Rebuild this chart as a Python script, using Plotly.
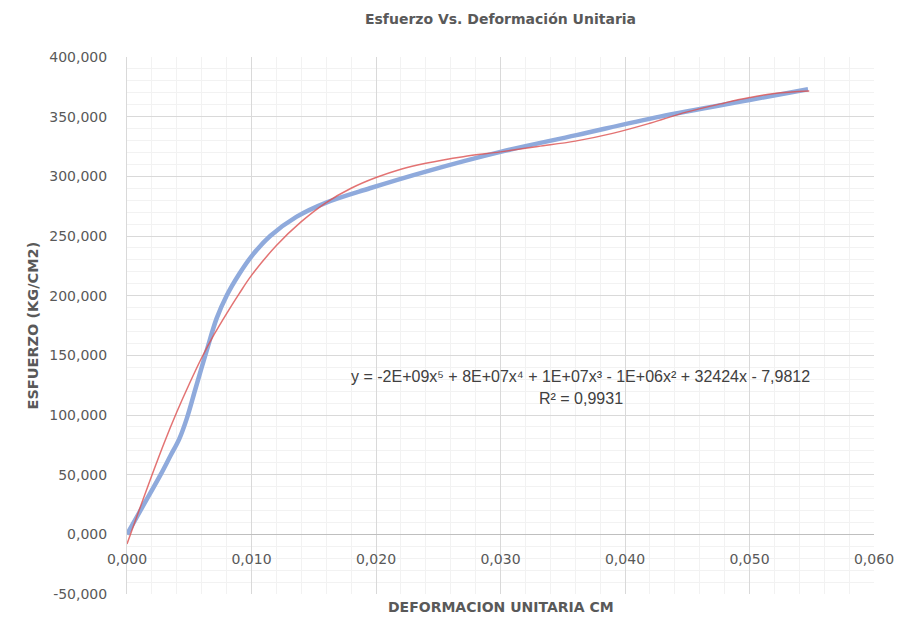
import plotly.graph_objects as go

# Ensayo: esfuerzo vs. deformación unitaria
deformacion = [0.0, 0.0013, 0.0027, 0.0035, 0.0042, 0.0048, 0.0055, 0.0064, 0.0072,
               0.0080, 0.0090, 0.0100, 0.0115, 0.0136, 0.0160, 0.0195, 0.0240,
               0.0300, 0.0361, 0.0428, 0.0500, 0.0547]
esfuerzo = [0.0, 24.0, 50.0, 66.0, 80.0, 97.0, 122.0, 154.0, 181.0,
            200.0, 218.0, 233.0, 250.0, 266.0, 278.0, 290.0, 304.0,
            320.5, 334.5, 350.0, 364.0, 373.0]

# Línea de tendencia polinómica (grado 5)
tend_x = [0.0, 0.001, 0.002, 0.003, 0.004, 0.005, 0.006, 0.007, 0.008, 0.009,
          0.010, 0.012, 0.014, 0.016, 0.018, 0.020, 0.022, 0.024, 0.027,
          0.030, 0.033, 0.036, 0.039, 0.042, 0.045, 0.048, 0.050, 0.052, 0.0548]
tend_y = [-8.0, 21.0, 49.5, 77.0, 102.5, 126.0, 148.0, 167.5, 185.0, 201.5,
          217.0, 242.0, 262.0, 278.0, 290.0, 299.0, 306.0, 311.0, 316.5,
          320.5, 325.0, 329.5, 336.0, 344.5, 354.0, 361.5, 366.0, 369.5, 371.5]

ecuacion = "y = -2E+09x⁵ + 8E+07x⁴ + 1E+07x³ - 1E+06x² + 32424x - 7,9812"
r2 = "R² = 0,9931"

x_ticks = [0.0, 0.01, 0.02, 0.03, 0.04, 0.05, 0.06]
y_ticks = [-50, 0, 50, 100, 150, 200, 250, 300, 350, 400]


def etiqueta(v):
    # tres decimales con coma decimal y guion como signo menos
    return f"{v:.3f}".replace(".", ",")


gray_txt = "#595959"
font_axis = "DejaVu Sans"

fig = go.Figure()
fig.add_trace(go.Scatter(
    x=deformacion, y=esfuerzo, mode="lines",
    line=dict(color="#8FAADC", width=4.5, shape="spline", smoothing=1.0),
    showlegend=False, name="Esfuerzo",
))
fig.add_trace(go.Scatter(
    x=tend_x, y=tend_y, mode="lines",
    line=dict(color="rgba(220,80,80,0.8)", width=1.5, shape="spline", smoothing=1.0),
    showlegend=False, name="Polinómica",
))

fig.update_layout(
    width=914, height=618,
    margin=dict(l=127, r=40, t=57, b=24),
    paper_bgcolor="white", plot_bgcolor="white",
    title=dict(
        text="<b>Esfuerzo Vs. Deformación Unitaria</b>",
        x=(127 + 874) / 2 / 914, xanchor="center",
        y=1 - 19 / 618, yanchor="middle",
        font=dict(family=font_axis, size=14, color=gray_txt),
    ),
    xaxis=dict(
        range=[0, 0.06], tickvals=x_ticks, ticktext=[etiqueta(v) for v in x_ticks],
        showgrid=True, gridcolor="#D9D9D9", gridwidth=1,
        minor=dict(dtick=0.002, showgrid=True, gridcolor="#F2F2F2", gridwidth=1),
        zeroline=False, showline=False, ticks="",
        anchor="free", position=50 / 450,
        tickfont=dict(family=font_axis, size=14, color=gray_txt),
        ticklabelstandoff=15,
    ),
    yaxis=dict(
        range=[-50, 400], tickvals=y_ticks, ticktext=[etiqueta(v) for v in y_ticks],
        showgrid=True, gridcolor="#D9D9D9", gridwidth=1,
        minor=dict(dtick=10, showgrid=True, gridcolor="#F2F2F2", gridwidth=1),
        zeroline=True, zerolinecolor="#BFBFBF", zerolinewidth=1,
        showline=True, linecolor="#D9D9D9", linewidth=1, ticks="",
        tickfont=dict(family=font_axis, size=14, color=gray_txt),
        ticklabelstandoff=16,
    ),
    annotations=[
        dict(text="<b>DEFORMACION UNITARIA CM</b>", xref="paper", yref="paper",
             x=0.5, y=-13 / 537, xanchor="center", yanchor="middle", showarrow=False,
             font=dict(family=font_axis, size=14, color=gray_txt)),
        dict(text="<b>ESFUERZO (KG/CM2)</b>", xref="paper", yref="paper",
             x=-(127 - 32) / 747, y=0.5, xanchor="center", yanchor="middle",
             textangle=-90, showarrow=False,
             font=dict(family=font_axis, size=14.5, color=gray_txt)),
        dict(text=ecuacion, xref="x", yref="y", x=0.03646, y=132,
             xanchor="center", yanchor="middle", showarrow=False,
             font=dict(family="Liberation Sans", size=16, color="#404040")),
        dict(text=r2, xref="x", yref="y", x=0.03646, y=114,
             xanchor="center", yanchor="middle", showarrow=False,
             font=dict(family="Liberation Sans", size=16, color="#404040")),
    ],
)

fig.write_html("out.html")
